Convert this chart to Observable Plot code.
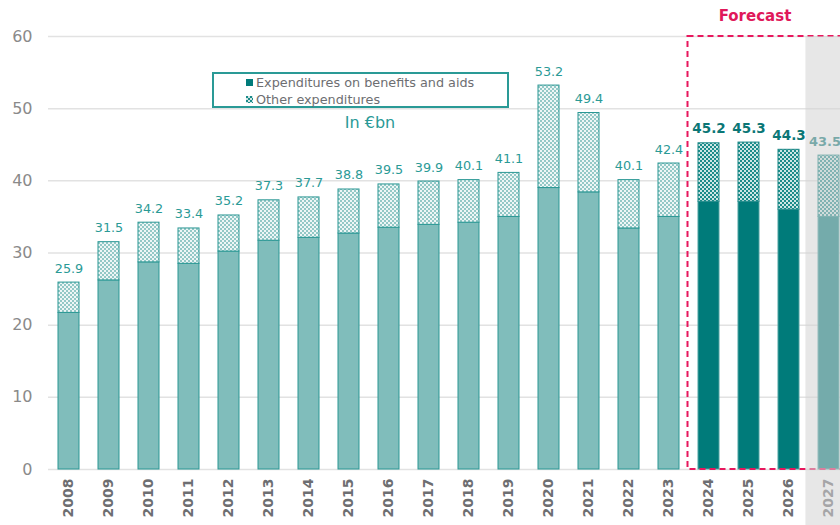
<!DOCTYPE html>
<html><head><meta charset="utf-8">
<script src="https://cdn.jsdelivr.net/npm/d3@7"></script>
<script src="https://cdn.jsdelivr.net/npm/@observablehq/plot@0.6"></script>
<style>
body{margin:0;background:#fff;font-family:"DejaVu Sans",sans-serif;}
#wrap{position:relative;width:840px;height:525px;overflow:hidden;}
#wrap svg.plot{position:absolute;left:0;top:0;}
.legend{position:absolute;left:212px;top:72px;width:293px;height:32px;border:2px solid #2a9a96;background:#fff;}
.legend .item{position:absolute;left:32px;font-size:12.8px;color:#6d6e71;white-space:nowrap;line-height:14px;}
.legend .item svg{display:inline-block;vertical-align:middle;margin-right:3px;position:relative;top:-1px;}
.unit{position:absolute;left:320px;width:100px;top:113px;text-align:center;font-size:16px;color:#2a9a96;}
.forecast{position:absolute;left:700px;width:110px;top:7px;text-align:center;font-size:15px;font-weight:bold;color:#e0185a;}
</style>
</head><body>
<div id="wrap"></div>
<script>
const years = ["2008","2009","2010","2011","2012","2013","2014","2015","2016","2017","2018","2019","2020","2021","2022","2023","2024","2025","2026","2027"];
const totals = [25.9,31.5,34.2,33.4,35.2,37.3,37.7,38.8,39.5,39.9,40.1,41.1,53.2,49.4,40.1,42.4,45.2,45.3,44.3,43.5];
const benefits = [21.7,26.2,28.7,28.5,30.2,31.7,32.1,32.7,33.5,33.9,34.2,35.0,39.0,38.4,33.4,35.0,37.1,37.1,36.0,35.0];
const forecastYears = ["2024","2025","2026","2027"];
const greyedYears = ["2027"];
const yTicks = [0,10,20,30,40,50,60];
const legendLabels = ["Expenditures on benefits and aids","Other expenditures"];
const unitLabel = "In €bn";
const forecastLabel = "Forecast";

const rows = years.map((year,i) => ({year, total: totals[i], benefits: benefits[i], forecast: forecastYears.includes(year), greyed: greyedYears.includes(year)}));
const hist = rows.filter(d => !d.forecast);
const fore = rows.filter(d => d.forecast);

const ns = "http://www.w3.org/2000/svg";
function forecastBox(index, scales, values, dims) {
  const x = scales.x, y = scales.y;
  const bw = x.bandwidth ? x.bandwidth() : 0;
  const c1 = x("2023") + bw/2, c2 = x("2024") + bw/2;
  const left = (c1 + c2) / 2 - 1;
  const r = document.createElementNS(ns, "rect");
  r.setAttribute("x", left);
  r.setAttribute("y", y(60));
  r.setAttribute("width", dims.width + 30 - left);
  r.setAttribute("height", y(0) - y(60));
  r.setAttribute("fill", "none");
  r.setAttribute("stroke", "#e8175d");
  r.setAttribute("stroke-width", "2");
  r.setAttribute("stroke-dasharray", "6,4");
  return r;
}

const chart = Plot.plot({
  width: 840, height: 525,
  marginTop: 36, marginBottom: 56, marginLeft: 48, marginRight: 0,
  style: {fontFamily: "DejaVu Sans, sans-serif", background: "transparent", overflow: "visible"},
  x: {domain: years, range: [48, 848], paddingInner: 0.48, paddingOuter: 0.24, label: null},
  y: {domain: [0, 60], label: null},
  marks: [
    Plot.ruleY(yTicks, {stroke: "#e2e2e2", strokeWidth: 1.5}),
    Plot.barY(hist, {x: "year", y1: 0, y2: "benefits", fill: "#80bdbb", stroke: "#2a9794", strokeWidth: 1}),
    Plot.barY(hist, {x: "year", y1: "benefits", y2: "total", fill: "url(#pHist)", stroke: "#2a9794", strokeWidth: 1}),
    Plot.barY(fore, {x: "year", y1: 0, y2: "benefits", fill: "#007b7a", stroke: "#4fa3a1", strokeWidth: 1}),
    Plot.barY(fore, {x: "year", y1: "benefits", y2: "total", fill: "url(#pFore)", stroke: "#1a8786", strokeWidth: 1}),
    Plot.text(hist, {x: "year", y: "total", text: d => d.total.toFixed(1), dy: -10, lineAnchor: "bottom", fill: "#2a9a96", fontSize: 12.8}),
    Plot.text(fore.filter(d => !d.greyed), {x: "year", y: "total", text: d => d.total.toFixed(1), dy: -10, lineAnchor: "bottom", fill: "#0b7776", fontSize: 13.5, fontWeight: "bold"}),
    Plot.text(fore.filter(d => d.greyed), {x: "year", y: "total", text: d => d.total.toFixed(1), dy: -10, dx: -4, lineAnchor: "bottom", fill: "#0b7776", fontSize: 13, fontWeight: "bold"}),
    forecastBox,
    Plot.axisY({ticks: yTicks, tickSize: 0, tickPadding: 16, fontSize: 16, color: "#8a8a8a"}),
    Plot.axisX({tickSize: 0, tickPadding: 9, tickRotate: -90, fontSize: 14, fontWeight: "bold", color: "#6d6e71"}),
    Plot.barY(greyedYears, {x: d => d, y1: -8.5, y2: 60, fill: "#d4d4d4", fillOpacity: 0.55, insetLeft: -12.6, insetRight: -20})
  ]
});
chart.classList.add("plot");
const defs = document.createElementNS(ns, "defs");
defs.innerHTML = `
<pattern id="pHist" width="4" height="4" patternUnits="userSpaceOnUse">
  <rect width="4" height="4" fill="#eef6f6"/>
  <rect width="2" height="2" fill="#93c8c6"/>
  <rect x="2" y="2" width="2" height="2" fill="#93c8c6"/>
</pattern>
<pattern id="pFore" width="4" height="4" patternUnits="userSpaceOnUse">
  <rect width="4" height="4" fill="#cfe6e5"/>
  <rect width="2" height="2" fill="#1b8b89"/>
  <rect x="2" y="2" width="2" height="2" fill="#1b8b89"/>
</pattern>`;
chart.prepend(defs);
chart.querySelectorAll('g[aria-label="x-axis tick label"] text').forEach(t => t.setAttribute("font-weight", "bold"));

const wrap = document.getElementById("wrap");
wrap.appendChild(chart);

const legend = document.createElement("div");
legend.className = "legend";
legend.innerHTML = `
<div class="item" style="top:2px"><svg width="7" height="7"><rect width="7" height="7" fill="#007b7a"/></svg>${legendLabels[0]}</div>
<div class="item" style="top:19px"><svg width="7" height="7"><rect width="7" height="7" fill="url(#pFore)"/></svg>${legendLabels[1]}</div>`;
wrap.appendChild(legend);

const unit = document.createElement("div");
unit.className = "unit"; unit.textContent = unitLabel;
wrap.appendChild(unit);

const fc = document.createElement("div");
fc.className = "forecast"; fc.textContent = forecastLabel;
wrap.appendChild(fc);
</script>
</body></html>
